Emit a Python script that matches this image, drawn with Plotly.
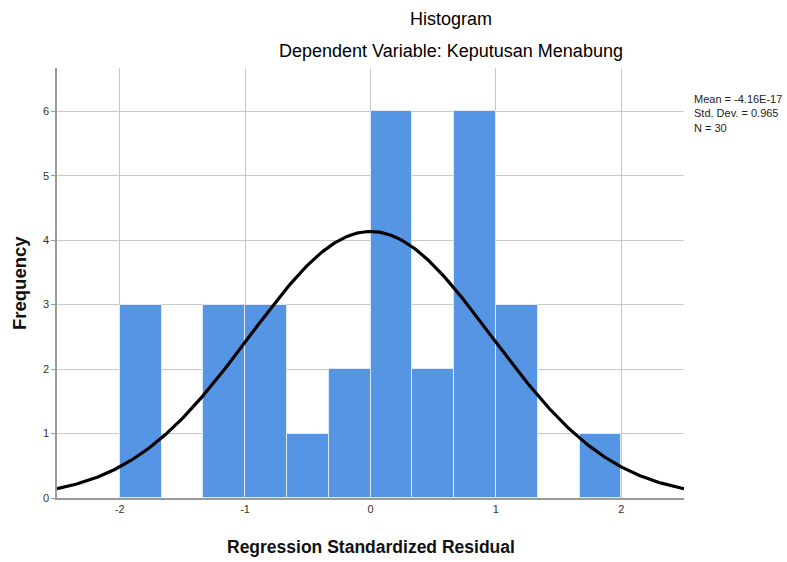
import numpy as np
import plotly.graph_objects as go

# Histogram bins (left edges) and counts
bin_left = [-2.0, -1.6667, -1.3333, -1.0, -0.6667, -0.3333, 0.0, 0.3333, 0.6667, 1.0, 1.3333, 1.6667]
counts = [3, 0, 3, 3, 1, 2, 6, 2, 6, 3, 0, 1]
bin_width = 1/3
mean_val = -4.16e-17
std_val = 0.965
n_val = 30
x_ticks = [-2, -1, 0, 1, 2]
y_ticks = [0, 1, 2, 3, 4, 5, 6]

centers = [b + bin_width/2 for b in bin_left]
line_w = [1 if c > 0 else 0 for c in counts]

xs = np.linspace(-2.5, 2.5, 400)
ys = n_val * bin_width / (std_val * np.sqrt(2*np.pi)) * np.exp(-0.5*((xs-mean_val)/std_val)**2)

fig = go.Figure()
fig.add_trace(go.Bar(x=centers, y=counts, width=bin_width,
                     marker=dict(color="#5595e3", line=dict(color="#dbe8f8", width=line_w)),
                     showlegend=False, hoverinfo="skip"))
fig.add_trace(go.Scatter(x=xs, y=ys, mode="lines", line=dict(color="black", width=3.2),
                         showlegend=False, hoverinfo="skip"))

font_family = "Liberation Sans, Arial, sans-serif"
L, R, T, B = 57, 103, 68, 64
W, H = 787, 562
pw = W - L - R
ph = H - T - B

def px2paper(px, py):
    return (px - L) / pw, (H - B - py) / ph

anns = []
for txt, (px, py) in [("Histogram", (451, 19)), ("Dependent Variable: Keputusan Menabung", (451, 51))]:
    ax, ay = px2paper(px, py)
    anns.append(dict(text=txt, x=ax, y=ay, xref="paper", yref="paper",
                     showarrow=False, xanchor="center", yanchor="middle",
                     font=dict(size=18, color="#000", family=font_family)))
ax, ay = px2paper(692, 91)
anns.append(dict(text=f"Mean = -4.16E-17<br>Std. Dev. = {std_val}<br>N = {n_val}",
                 x=ax, y=ay, xref="paper", yref="paper",
                 showarrow=False, xanchor="left", yanchor="top", align="left",
                 font=dict(size=11, color="#222", family=font_family)))
ax, ay = px2paper(371, 547)
anns.append(dict(text="<b>Regression Standardized Residual</b>", x=ax, y=ay, xref="paper", yref="paper",
                 showarrow=False, xanchor="center", yanchor="middle",
                 font=dict(size=17.5, color="#111", family=font_family)))
ax, ay = px2paper(19, 283)
anns.append(dict(text="<b>Frequency</b>", x=ax, y=ay, xref="paper", yref="paper",
                 showarrow=False, xanchor="center", yanchor="middle", textangle=-90,
                 font=dict(size=18.5, color="#111", family=font_family)))

fig.update_layout(
    width=W, height=H,
    margin=dict(l=L, r=R, t=T, b=B, autoexpand=False),
    paper_bgcolor="white", plot_bgcolor="white",
    font=dict(family=font_family, color="#222"),
    bargap=0,
    xaxis=dict(range=[-2.5, 2.5], tickvals=x_ticks, ticktext=[str(v) for v in x_ticks],
               showgrid=True, gridcolor="#c8c8c8", gridwidth=1, zeroline=False,
               showline=True, linecolor="#9a9a9a", linewidth=1.5, automargin=False,
               ticks="", tickfont=dict(size=11, color="#333")),
    yaxis=dict(range=[0, 6.67], tickvals=y_ticks,
               showgrid=True, gridcolor="#c8c8c8", gridwidth=1, zeroline=False,
               showline=True, linecolor="#9a9a9a", linewidth=1.5, automargin=False,
               ticks="outside", ticklen=4, tickcolor="#9a9a9a", tickfont=dict(size=11, color="#333")),
    annotations=anns,
)

fig.write_html("out.html", config={"displayModeBar": False},
               post_script="document.body.style.margin='0';")
